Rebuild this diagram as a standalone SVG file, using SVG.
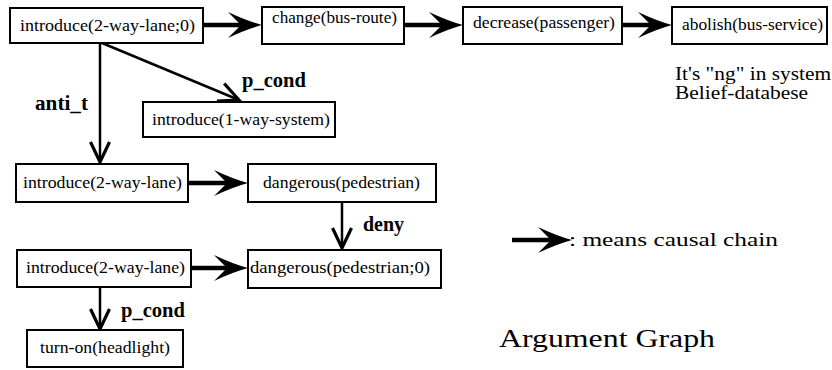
<svg xmlns="http://www.w3.org/2000/svg" width="832" height="370" viewBox="0 0 832 370">
<style>
.box{fill:#fff;stroke:#000;stroke-width:2}
.t{font-family:"Liberation Serif","Times New Roman",serif;font-size:17px;fill:#000}
.lb{font-family:"Liberation Serif","Times New Roman",serif;font-size:20px;font-weight:bold;fill:#000}
.pl{font-family:"Liberation Serif","Times New Roman",serif;font-size:19px;fill:#000}
.cz{stroke:#000;stroke-width:4.5;fill:none}
.th{stroke:#000;stroke-width:2.5;fill:none}
</style>
<defs>
<marker id="stealth" markerUnits="userSpaceOnUse" viewBox="-36 -15 38 30" markerWidth="38" markerHeight="30" refX="-21" refY="0" orient="auto" overflow="visible">
<path d="M0,0 Q-15,-4 -34,-13 L-21,0 L-34,13 Q-15,4 0,0 Z" fill="#000"/>
</marker>
<marker id="vee" markerUnits="userSpaceOnUse" viewBox="-22 -12 24 24" markerWidth="24" markerHeight="24" refX="0" refY="0" orient="auto" overflow="visible">
<path d="M-20,-9.5 L0,0 L-20,9.5" fill="none" stroke="#000" stroke-width="3.2" stroke-linejoin="miter"/>
</marker>
</defs>
<rect width="832" height="370" fill="#fff"/>
<g id="connectors">
<line class="cz" x1="203" y1="25" x2="241" y2="25" marker-end="url(#stealth)"/>
<line class="cz" x1="404" y1="25" x2="442" y2="25" marker-end="url(#stealth)"/>
<line class="cz" x1="622" y1="25" x2="651" y2="25" marker-end="url(#stealth)"/>
<line class="cz" x1="188" y1="183" x2="227" y2="183" marker-end="url(#stealth)"/>
<line class="cz" x1="191" y1="268" x2="227" y2="268" marker-end="url(#stealth)"/>
<line class="th" x1="100" y1="43" x2="100" y2="162" marker-end="url(#vee)"/>
<line class="th" x1="102" y1="43" x2="239" y2="100" marker-end="url(#vee)"/>
<line class="th" x1="342" y1="202" x2="342" y2="248" marker-end="url(#vee)"/>
<line class="th" x1="100" y1="287" x2="100" y2="329" marker-end="url(#vee)"/>
<text class="lb" x="35" y="110" textLength="53" lengthAdjust="spacingAndGlyphs">anti_t</text>
<text class="lb" x="242" y="87" textLength="64" lengthAdjust="spacingAndGlyphs">p_cond</text>
<text class="lb" x="363" y="231" textLength="41" lengthAdjust="spacingAndGlyphs">deny</text>
<text class="lb" x="121" y="317" textLength="64" lengthAdjust="spacingAndGlyphs">p_cond</text>
</g>
<g id="n1"><rect class="box" x="10" y="8" width="193" height="35"/><text class="t" x="20" y="31" textLength="175" lengthAdjust="spacingAndGlyphs">introduce(2-way-lane;0)</text></g>
<g id="n2"><rect class="box" x="262" y="7" width="142" height="37"/><text class="t" x="272" y="23" textLength="125" lengthAdjust="spacingAndGlyphs">change(bus-route)</text></g>
<g id="n3"><rect class="box" x="463" y="7" width="159" height="37"/><text class="t" x="473" y="28" textLength="142" lengthAdjust="spacingAndGlyphs">decrease(passenger)</text></g>
<g id="n4"><rect class="box" x="672" y="7" width="155" height="37"/><text class="t" x="682" y="30" textLength="141" lengthAdjust="spacingAndGlyphs">abolish(bus-service)</text></g>
<g id="n5"><rect class="box" x="143" y="102" width="192" height="35"/><text class="t" x="152" y="125" textLength="178" lengthAdjust="spacingAndGlyphs">introduce(1-way-system)</text></g>
<g id="n6"><rect class="box" x="16" y="164" width="172" height="38"/><text class="t" x="23" y="188" textLength="159" lengthAdjust="spacingAndGlyphs">introduce(2-way-lane)</text></g>
<g id="n7"><rect class="box" x="248" y="164" width="188" height="38"/><text class="t" x="263" y="188" textLength="157" lengthAdjust="spacingAndGlyphs">dangerous(pedestrian)</text></g>
<g id="n8"><rect class="box" x="17" y="250" width="174" height="37"/><text class="t" x="26" y="273" textLength="159" lengthAdjust="spacingAndGlyphs">introduce(2-way-lane)</text></g>
<g id="n9"><rect class="box" x="248" y="250" width="193" height="38"/><text class="t" x="250" y="273" textLength="180" lengthAdjust="spacingAndGlyphs">dangerous(pedestrian;0)</text></g>
<g id="n10"><rect class="box" x="27" y="330" width="156" height="37"/><text class="t" x="40" y="353" textLength="130" lengthAdjust="spacingAndGlyphs">turn-on(headlight)</text></g>
<g id="notes">
<text class="pl" x="675" y="80" textLength="156" lengthAdjust="spacingAndGlyphs">It's "ng" in system</text>
<text class="pl" x="675" y="99" textLength="133" lengthAdjust="spacingAndGlyphs">Belief-databese</text>
<line class="cz" x1="512" y1="240" x2="551" y2="240" marker-end="url(#stealth)"/>
<text class="pl" x="569" y="246" textLength="209" lengthAdjust="spacingAndGlyphs">: means causal chain</text>
<text class="pl" x="499" y="347" style="font-size:26px" textLength="216" lengthAdjust="spacingAndGlyphs">Argument Graph</text>
</g>
</svg>
